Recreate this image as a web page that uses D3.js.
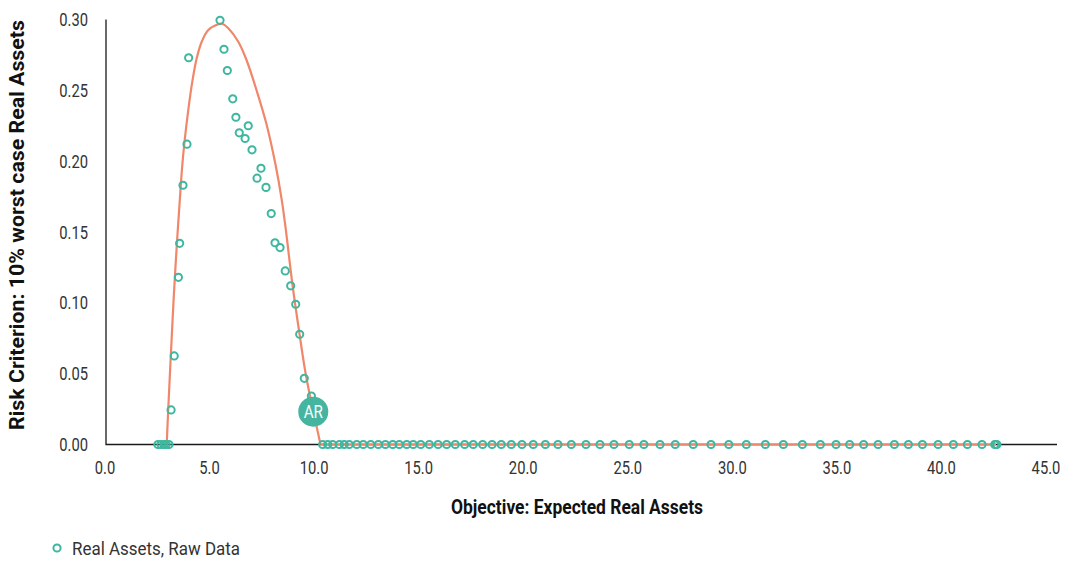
<!DOCTYPE html>
<html>
<head>
<meta charset="utf-8">
<script src="https://cdn.jsdelivr.net/npm/d3@7"></script>
<style>
  html, body { margin: 0; padding: 0; background: #fff; }
  svg { display: block; }
  text { font-family: Roboto, "Liberation Sans", sans-serif; }
</style>
</head>
<body>
<svg id="chart" width="1067" height="562"></svg>
<script>
// ---------- data ----------
const rawX = [
  2.53, 2.68, 2.82, 2.92, 3.06,
  3.16, 3.31, 3.51, 3.57, 3.73, 3.92, 4.00,
  5.50, 5.69, 5.85, 6.11, 6.26, 6.42, 6.70, 6.85, 7.03, 7.27, 7.46, 7.70,
  7.95, 8.13, 8.37, 8.62, 8.88, 9.12, 9.31, 9.53, 9.87,
  10.41, 10.65, 10.89, 11.21, 11.44, 11.68, 12.04, 12.35, 12.71, 13.07,
  13.41, 13.76, 14.07, 14.43, 14.74, 15.10, 15.51, 15.93, 16.34, 16.75,
  17.20, 17.61, 18.06, 18.51, 18.95, 19.43, 19.94, 20.48, 21.06, 21.66,
  22.30, 23.00, 23.67, 24.34, 25.07, 25.77, 26.54, 27.27, 28.13, 28.98,
  29.83, 30.67, 31.58, 32.44, 33.35, 34.21, 34.96, 35.61, 36.28, 36.97,
  37.75, 38.42, 39.09, 39.84, 40.57, 41.24, 41.94, 42.55, 42.60, 42.65
];
const rawY = [
  0, 0, 0, 0, 0,
  0.0244, 0.0625, 0.118, 0.142, 0.183, 0.212, 0.273,
  0.2994, 0.279, 0.264, 0.244, 0.231, 0.220, 0.216, 0.225, 0.208, 0.188, 0.195, 0.1815,
  0.163, 0.1424, 0.139, 0.1225, 0.112, 0.099, 0.0778, 0.0467, 0.0342,
  0, 0, 0, 0, 0, 0, 0, 0, 0, 0,
  0, 0, 0, 0, 0, 0, 0, 0, 0, 0,
  0, 0, 0, 0, 0, 0, 0, 0, 0, 0,
  0, 0, 0, 0, 0, 0, 0, 0, 0, 0,
  0, 0, 0, 0, 0, 0, 0, 0, 0, 0,
  0, 0, 0, 0, 0, 0, 0, 0, 0, 0
];
// fitted curve, hump part
const fitX = [2.951, 3.022, 3.147, 3.281, 3.419, 3.577, 3.697, 3.802, 3.993, 4.175, 4.385, 4.625,
              4.940, 5.418, 5.600, 5.897, 6.375, 6.767, 7.245, 7.724, 8.154, 8.450, 8.647,
              8.967, 9.302, 9.565, 9.804, 10.081, 10.306];
const fitY = [0, 0.02435, 0.0625, 0.1023, 0.1373, 0.1726, 0.1973, 0.2137, 0.2373, 0.2561, 0.2726, 0.2843,
              0.2926, 0.2966, 0.2970, 0.2938, 0.2843, 0.2714, 0.2502, 0.2261, 0.1976, 0.1729, 0.1517,
              0.1126, 0.0780, 0.0526, 0.0342, 0.0152, 0];
// fitted curve, flat tail
const tailX = [10.306, 42.61];
const tailY = [0, 0];
const arLabel = "AR";
const arX = [9.96];
const arY = [0.0232];
const xTicks = [0, 5, 10, 15, 20, 25, 30, 35, 40, 45];
const yTicks = [0, 0.05, 0.10, 0.15, 0.20, 0.25, 0.30];
const xTitle = "Objective: Expected Real Assets";
const yTitle = "Risk Criterion: 10% worst case Real Assets";
const legendLabel = "Real Assets, Raw Data";

// ---------- chart ----------
const svg = d3.select("#chart");
const teal = "#3DB7A0";
const orange = "#F0876A";

const x = d3.scaleLinear().domain([0, 45]).range([105, 1046]);
const y = d3.scaleLinear().domain([0, 0.30]).range([444.5, 19.5]);

// axes lines
svg.append("path")
  .attr("d", `M106,${y(0.30)}V${y(0)}H1057`)
  .attr("fill", "none").attr("stroke", "#1a1a1a").attr("stroke-width", 1.3);

// tick labels
const sx = 0.82;
svg.append("g").selectAll("text").data(xTicks).join("text")
  .attr("transform", d => `translate(${x(d)},474) scale(${sx},1)`)
  .attr("text-anchor", "middle")
  .attr("font-size", 18).attr("fill", "#333")
  .text(d => d3.format(".1f")(d));

svg.append("g").selectAll("text").data(yTicks).join("text")
  .attr("transform", d => `translate(88,${y(d) + 6.5}) scale(${sx},1)`)
  .attr("text-anchor", "end")
  .attr("font-size", 18).attr("fill", "#333")
  .text(d => d3.format(".2f")(d));

// titles
svg.append("text")
  .attr("x", 577).attr("y", 514)
  .attr("text-anchor", "middle")
  .attr("font-size", 20).attr("font-weight", "bold").attr("fill", "#111")
  .attr("textLength", 252).attr("lengthAdjust", "spacingAndGlyphs")
  .text(xTitle);

svg.append("text")
  .attr("transform", `translate(24,225) rotate(-90)`)
  .attr("text-anchor", "middle")
  .attr("font-size", 21).attr("font-weight", "bold").attr("fill", "#111")
  .attr("textLength", 410).attr("lengthAdjust", "spacingAndGlyphs")
  .text(yTitle);

// fitted curve
svg.append("path")
  .datum(fitX.map((v, i) => [v, fitY[i]]))
  .attr("fill", "none").attr("stroke", orange).attr("stroke-width", 2.2)
  .attr("d", d3.line().x(d => x(d[0])).y(d => y(d[1])).curve(d3.curveCatmullRom.alpha(0.5)));
svg.append("path")
  .datum(tailX.map((v, i) => [v, tailY[i]]))
  .attr("fill", "none").attr("stroke", orange).attr("stroke-width", 2.2)
  .attr("d", d3.line().x(d => x(d[0])).y(d => y(d[1])));

// raw points
const pts = rawX.map((v, i) => [v, rawY[i]]);
svg.append("g").selectAll("circle").data(pts).join("circle")
  .attr("cx", d => x(d[0])).attr("cy", d => y(d[1]))
  .attr("r", 3.6)
  .attr("fill", "none")
  .attr("stroke", teal).attr("stroke-width", 2);

// AR marker
svg.append("circle")
  .attr("cx", x(arX[0])).attr("cy", y(arY[0])).attr("r", 15)
  .attr("fill", "#45B5A0");
svg.append("text")
  .attr("transform", `translate(${x(arX[0])},${y(arY[0]) + 6.5}) scale(0.8,1)`)
  .attr("text-anchor", "middle")
  .attr("font-size", 19).attr("fill", "#fff")
  .text(arLabel);

// legend
svg.append("circle")
  .attr("cx", 57).attr("cy", 548).attr("r", 3.6)
  .attr("fill", "none").attr("stroke", teal).attr("stroke-width", 2);
svg.append("text")
  .attr("x", 72).attr("y", 555)
  .attr("font-size", 18).attr("fill", "#333")
  .attr("textLength", 168).attr("lengthAdjust", "spacingAndGlyphs")
  .text(legendLabel);
</script>
</body>
</html>
